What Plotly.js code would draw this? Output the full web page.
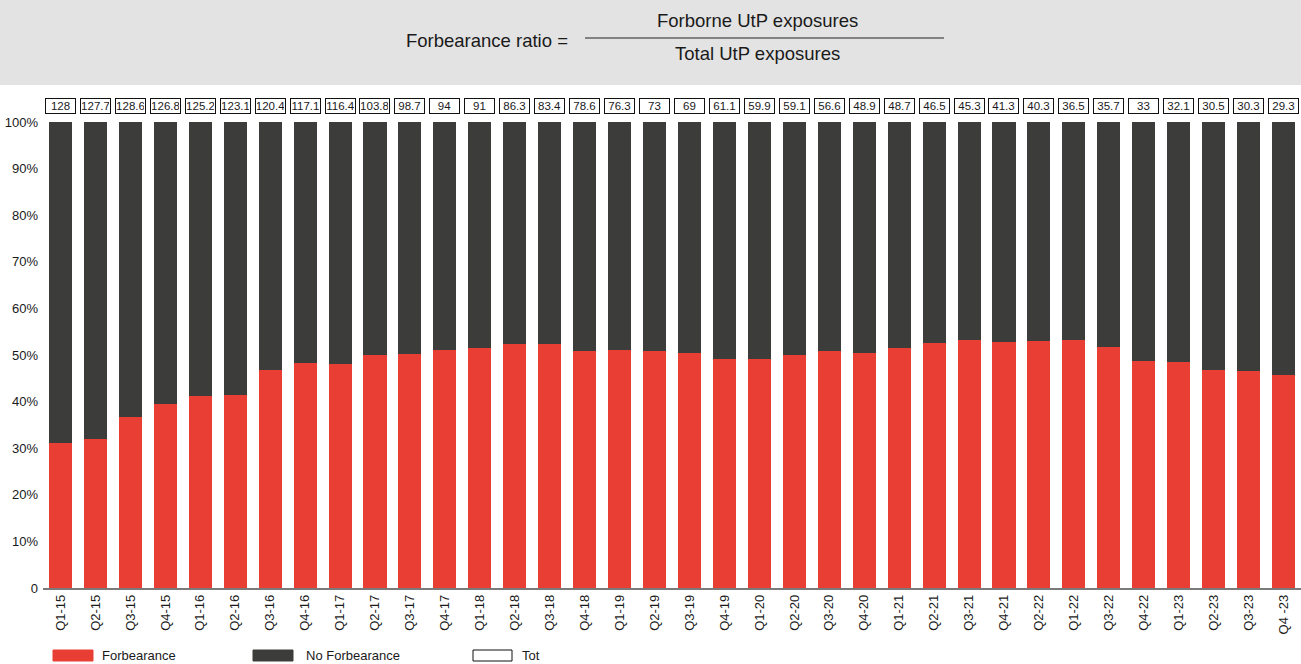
<!DOCTYPE html>
<html>
<head>
<meta charset="utf-8">
<script src="https://cdn.plot.ly/plotly-3.0.1.min.js"></script>
<style>
  html, body { margin: 0; padding: 0; background: #ffffff; }
  #chart { width: 1301px; height: 664px; }
</style>
</head>
<body>
<div id="chart"></div>
<script>
// ---- data ----
const quarters = ["Q1-15","Q2-15","Q3-15","Q4-15","Q1-16","Q2-16","Q3-16","Q4-16","Q1-17","Q2-17","Q3-17","Q4-17",
  "Q1-18","Q2-18","Q3-18","Q4-18","Q1-19","Q2-19","Q3-19","Q4-19","Q1-20","Q2-20","Q3-20","Q4-20",
  "Q1-21","Q2-21","Q3-21","Q4-21","Q2-22","Q1-22","Q3-22","Q4-22","Q1-23","Q2-23","Q3-23","Q4 -23"];
const forbearance = [31.2,32.0,36.8,39.4,41.3,41.5,46.7,48.2,48.0,49.9,50.3,51.0,
  51.6,52.3,52.3,50.8,51.0,50.8,50.5,49.2,49.2,50.1,50.8,50.5,
  51.6,52.5,53.3,52.7,53.1,53.3,51.8,48.8,48.6,46.7,46.5,45.8];
const noForbearance = forbearance.map(v => +(100 - v).toFixed(1));
const totals = [128,127.7,128.6,126.8,125.2,123.1,120.4,117.1,116.4,103.8,98.7,94,
  91,86.3,83.4,78.6,76.3,73,69,61.1,59.9,59.1,56.6,48.9,
  48.7,46.5,45.3,41.3,40.3,36.5,35.7,33,32.1,30.5,30.3,29.3];
const yTickVals = [0,10,20,30,40,50,60,70,80,90,100];
const yTickText = ["0","10%","20%","30%","40%","50%","60%","70%","80%","90%","100%"];

// ---- styling ----
const RED = "#e93e34";
const DARK = "#3c3c3a";
const FONT = "Liberation Sans, Arial, sans-serif";
const W = 1301, H = 664;
const ML = 43, MR = 0, MT = 122, MB = 76;
const PW = W - ML - MR, PH = H - MT - MB;
const px2x = px => (px - ML) / PW;
const py2y = py => (H - MB - py) / PH;

const traces = [
  { type: "bar", name: "Forbearance", x: quarters, y: forbearance, marker: { color: RED }, hoverinfo: "x+y" },
  { type: "bar", name: "No Forbearance", x: quarters, y: noForbearance, marker: { color: DARK }, hoverinfo: "x+y" }
];

const annotations = [];
const shapes = [];

// header band
shapes.push({ type: "rect", xref: "paper", yref: "paper", x0: px2x(0), x1: px2x(W), y0: py2y(85), y1: py2y(0),
  fillcolor: "#e3e3e3", line: { width: 0 }, layer: "below" });
// fraction line
shapes.push({ type: "line", xref: "paper", yref: "paper", x0: px2x(585), x1: px2x(944), y0: py2y(38), y1: py2y(38),
  line: { color: "#222", width: 1.2 } });
annotations.push({ xref: "paper", yref: "paper", x: px2x(570), y: py2y(40), xanchor: "right", yanchor: "middle",
  text: "Forbearance ratio =", showarrow: false, font: { family: FONT, size: 18.5, color: "#1a1a1a" } });
annotations.push({ xref: "paper", yref: "paper", x: px2x(757), y: py2y(20), xanchor: "center", yanchor: "middle",
  text: "Forborne UtP exposures", showarrow: false, font: { family: FONT, size: 18.5, color: "#1a1a1a" } });
annotations.push({ xref: "paper", yref: "paper", x: px2x(757), y: py2y(54), xanchor: "center", yanchor: "middle",
  text: "Total UtP exposures", showarrow: false, font: { family: FONT, size: 18.5, color: "#1a1a1a" } });

// total boxes
quarters.forEach((q, i) => {
  annotations.push({ x: q, xref: "x", yref: "paper", y: py2y(106), yanchor: "middle", xanchor: "center",
    text: String(totals[i]), showarrow: false, width: 27, height: 12,
    bgcolor: "#ffffff", bordercolor: "#111", borderwidth: 1, borderpad: 1,
    font: { family: FONT, size: 11.5, color: "#1a1a1a" } });
});

// custom legend
const legendItems = [
  { sx0: 53, sx1: 93, fill: RED, border: RED, tx: 100, label: "Forbearance" },
  { sx0: 253, sx1: 293, fill: DARK, border: DARK, tx: 304, label: "No Forbearance" },
  { sx0: 473, sx1: 512, fill: "#ffffff", border: "#111", tx: 520, label: "Tot" }
];
legendItems.forEach(it => {
  shapes.push({ type: "rect", xref: "paper", yref: "paper", x0: px2x(it.sx0), x1: px2x(it.sx1),
    y0: py2y(661), y1: py2y(650), fillcolor: it.fill, line: { color: it.border, width: 1 } });
  annotations.push({ xref: "paper", yref: "paper", x: px2x(it.tx), y: py2y(655), xanchor: "left", yanchor: "middle",
    text: it.label, showarrow: false, font: { family: FONT, size: 13, color: "#1a1a1a" } });
});

const layout = {
  width: W, height: H,
  margin: { l: ML, r: MR, t: MT, b: MB, pad: 0 },
  paper_bgcolor: "#ffffff", plot_bgcolor: "#ffffff",
  barmode: "stack", bargap: 0.34,
  showlegend: false,
  font: { family: FONT, size: 12, color: "#1a1a1a" },
  xaxis: {
    type: "category", tickangle: -90, showgrid: false, zeroline: false,
    showline: true, linecolor: "#7a7a7a", linewidth: 1.5, ticks: "",
    tickfont: { family: FONT, size: 13, color: "#1a1a1a" }, automargin: false
  },
  yaxis: {
    range: [0, 100], tickvals: yTickVals, ticktext: yTickText, showgrid: false, zeroline: false,
    showline: false, ticks: "", ticklabelstandoff: 4,
    tickfont: { family: FONT, size: 13, color: "#1a1a1a" }, automargin: false
  },
  annotations: annotations,
  shapes: shapes
};

Plotly.newPlot("chart", traces, layout, { displayModeBar: false, staticPlot: true });
</script>
</body>
</html>
